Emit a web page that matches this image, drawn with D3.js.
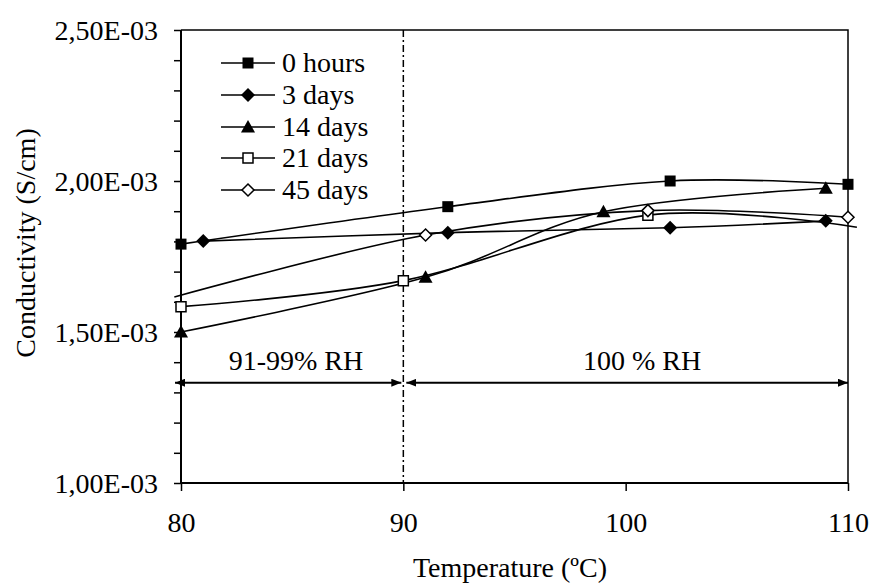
<!DOCTYPE html>
<html>
<head>
<meta charset="utf-8">
<script src="https://cdn.jsdelivr.net/npm/d3@7"></script>
<style>
  html, body { margin: 0; padding: 0; background: #fff; }
  svg { display: block; }
  text { font-family: "Liberation Serif", "Times New Roman", serif; fill: #000; }
</style>
</head>
<body>
<svg id="chart" width="872" height="584"></svg>
<script>
// ---------- data ----------
const seriesNames = ["0 hours", "3 days", "14 days", "21 days", "45 days"];
const markerTypes = ["squareFilled", "diamondFilled", "triangleFilled", "squareOpen", "diamondOpen"];

const temp0h  = [80, 92, 102, 110];
const cond0h  = [1.791e-3, 1.915e-3, 2.000e-3, 1.989e-3];
const temp3d  = [81, 92, 102, 109];
const cond3d  = [1.801e-3, 1.829e-3, 1.845e-3, 1.868e-3];
const temp14d = [80, 91, 99, 109];
const cond14d = [1.500e-3, 1.681e-3, 1.898e-3, 1.976e-3];
const temp21d = [80, 90, 101, 110.4];
const cond21d = [1.584e-3, 1.670e-3, 1.887e-3, 1.847e-3];
const temp45d = [79.7, 91, 101, 110];
const cond45d = [1.616e-3, 1.821e-3, 1.902e-3, 1.880e-3];

const xTicks = [80, 90, 100, 110];
const yTicks = [1.0e-3, 1.5e-3, 2.0e-3, 2.5e-3];
const xDomain = [80, 110];
const yDomain = [1.0e-3, 2.5e-3];

const dividerTemp = 90;
const regionLabels = ["91-99% RH", "100 % RH"];
const regionFrom = [80, 90];
const regionTo = [90, 110];
const regionArrowCond = 1.332e-3;

const xTitle = "Temperature (ºC)";
const yTitle = "Conductivity (S/cm)";

// ---------- layout ----------
const W = 872, H = 584;
const m = { left: 181, right: 24, top: 30, bottom: 101 };
const FONT = 28;

const svg = d3.select("#chart");
const x = d3.scaleLinear().domain(xDomain).range([m.left, W - m.right]);
const y = d3.scaleLinear().domain(yDomain).range([H - m.bottom, m.top]);

const fmtY = v => {
  const [mant, exp] = v.toExponential(2).split("e");
  const e = parseInt(exp, 10);
  const es = (e < 0 ? "-" : "+") + String(Math.abs(e)).padStart(2, "0");
  return mant.replace(".", ",") + "E" + es;
};

// frame (top & right)
svg.append("path")
  .attr("d", `M${x(xDomain[0])},${y(yDomain[1])}H${x(xDomain[1])}V${y(yDomain[0])}`)
  .attr("fill", "none").attr("stroke", "#000").attr("stroke-width", 1.5);

// y axis
const yMinor = d3.range(10, 26).map(v => v / 1e4);
const yAxis = svg.append("g").attr("transform", `translate(${m.left},0)`)
  .call(d3.axisLeft(y).tickValues(yMinor).tickSize(7).tickFormat(""));
yAxis.select(".domain").attr("stroke-width", 2).attr("d", `M0,${y(yDomain[0])}V${y(yDomain[1])}`);
yAxis.selectAll(".tick line").attr("stroke-width", 1.5);
yAxis.selectAll(".tick text").remove();
svg.append("g").selectAll("text").data(yTicks).join("text")
  .attr("x", m.left - 23).attr("y", d => y(d)).attr("dy", "0.36em")
  .attr("text-anchor", "end").attr("font-size", FONT)
  .text(fmtY);

// x axis
const xAxis = svg.append("g").attr("transform", `translate(0,${H - m.bottom})`)
  .call(d3.axisBottom(x).tickValues(xTicks).tickSize(8).tickFormat(d3.format("d")));
xAxis.select(".domain").attr("stroke-width", 2).attr("d", `M${x(xDomain[0])},0H${x(xDomain[1])}`);
xAxis.selectAll(".tick line").attr("stroke-width", 1.5);
xAxis.selectAll(".tick text").attr("font-size", FONT).attr("y", 0).attr("dy", 0)
  .attr("transform", "translate(0,49)")
  .style("font-family", '"Liberation Serif", "Times New Roman", serif');
svg.selectAll(".tick text").attr("fill", "#000");

// titles
svg.append("text").attr("x", 510).attr("y", 577).attr("text-anchor", "middle")
  .attr("font-size", FONT).text(xTitle);
svg.append("text").attr("transform", "translate(34.5,243) rotate(-90)")
  .attr("text-anchor", "middle").attr("font-size", FONT).text(yTitle);

// divider dash-dot line
svg.append("line")
  .attr("x1", x(dividerTemp)).attr("x2", x(dividerTemp))
  .attr("y1", y(yDomain[1])).attr("y2", y(yDomain[0]))
  .attr("stroke", "#000").attr("stroke-width", 1.5)
  .attr("stroke-dasharray", "7,3,2,3");

// region arrows
const defs = svg.append("defs");
["start", "end"].forEach(k => {
  defs.append("marker").attr("id", "arr-" + k)
    .attr("viewBox", "0 0 10 8").attr("refX", k === "end" ? 10 : 0).attr("refY", 4)
    .attr("markerWidth", 10).attr("markerHeight", 8).attr("markerUnits", "userSpaceOnUse")
    .attr("orient", "auto")
    .append("path")
    .attr("d", k === "end" ? "M0,0L10,4L0,8Z" : "M10,0L0,4L10,8Z")
    .attr("fill", "#000");
});
const ay = y(regionArrowCond);
regionLabels.forEach((lab, i) => {
  const x1 = x(regionFrom[i]) + (i === 0 ? -6 : 3);
  const x2 = x(regionTo[i]) + (i === 0 ? -2 : 0);
  svg.append("line").attr("x1", x1).attr("x2", x2).attr("y1", ay).attr("y2", ay)
    .attr("stroke", "#000").attr("stroke-width", 2)
    .attr("marker-start", "url(#arr-start)").attr("marker-end", "url(#arr-end)");
});
svg.append("text").attr("x", 296).attr("y", 370).attr("text-anchor", "middle")
  .attr("font-size", FONT).style("white-space", "pre").text(regionLabels[0]);
svg.append("text").attr("x", 642).attr("y", 370).attr("text-anchor", "middle")
  .attr("font-size", FONT).style("white-space", "pre").text(regionLabels[1]);

// ---------- series ----------
const temps = [temp0h, temp3d, temp14d, temp21d, temp45d];
const conds = [cond0h, cond3d, cond14d, cond21d, cond45d];

function markerPath(type) {
  switch (type) {
    case "squareFilled": return "M-5.5,-5.5H5.5V5.5H-5.5Z";
    case "squareOpen": return "M-5,-5H5V5H-5Z";
    case "diamondFilled": return "M0,-7L7,0L0,7L-7,0Z";
    case "diamondOpen": return "M0,-6L6,0L0,6L-6,0Z";
    case "triangleFilled": return "M0,-7L7,5.5H-7Z";
  }
}
function drawMarker(g, type, cx, cy) {
  const open = type.endsWith("Open");
  g.append("path").attr("d", markerPath(type))
    .attr("transform", `translate(${cx},${cy})`)
    .attr("fill", open ? "#fff" : "#000")
    .attr("stroke", open ? "#000" : "none")
    .attr("stroke-width", open ? 1.5 : 0);
}

const line = d3.line().x(d => x(d[0])).y(d => y(d[1])).curve(d3.curveCatmullRom.alpha(0));

seriesNames.forEach((name, i) => {
  const pts = temps[i].map((t, j) => [t, conds[i][j]]);
  const g = svg.append("g");
  g.append("path").datum(pts).attr("d", line)
    .attr("fill", "none").attr("stroke", "#000").attr("stroke-width", 1.6);
  pts.filter(p => p[0] >= xDomain[0] && p[0] <= xDomain[1])
    .forEach(p => drawMarker(g, markerTypes[i], x(p[0]), y(p[1])));
});

// ---------- legend ----------
const legendY = [63, 95, 127, 158, 190];
const lg = svg.append("g");
seriesNames.forEach((name, i) => {
  const ly = legendY[i];
  lg.append("line").attr("x1", 221).attr("x2", 275).attr("y1", ly).attr("y2", ly)
    .attr("stroke", "#000").attr("stroke-width", 1.6);
  drawMarker(lg, markerTypes[i], 248, ly);
  lg.append("text").attr("x", 282).attr("y", ly).attr("dy", "0.33em")
    .attr("font-size", FONT).text(name);
});
</script>
</body>
</html>
